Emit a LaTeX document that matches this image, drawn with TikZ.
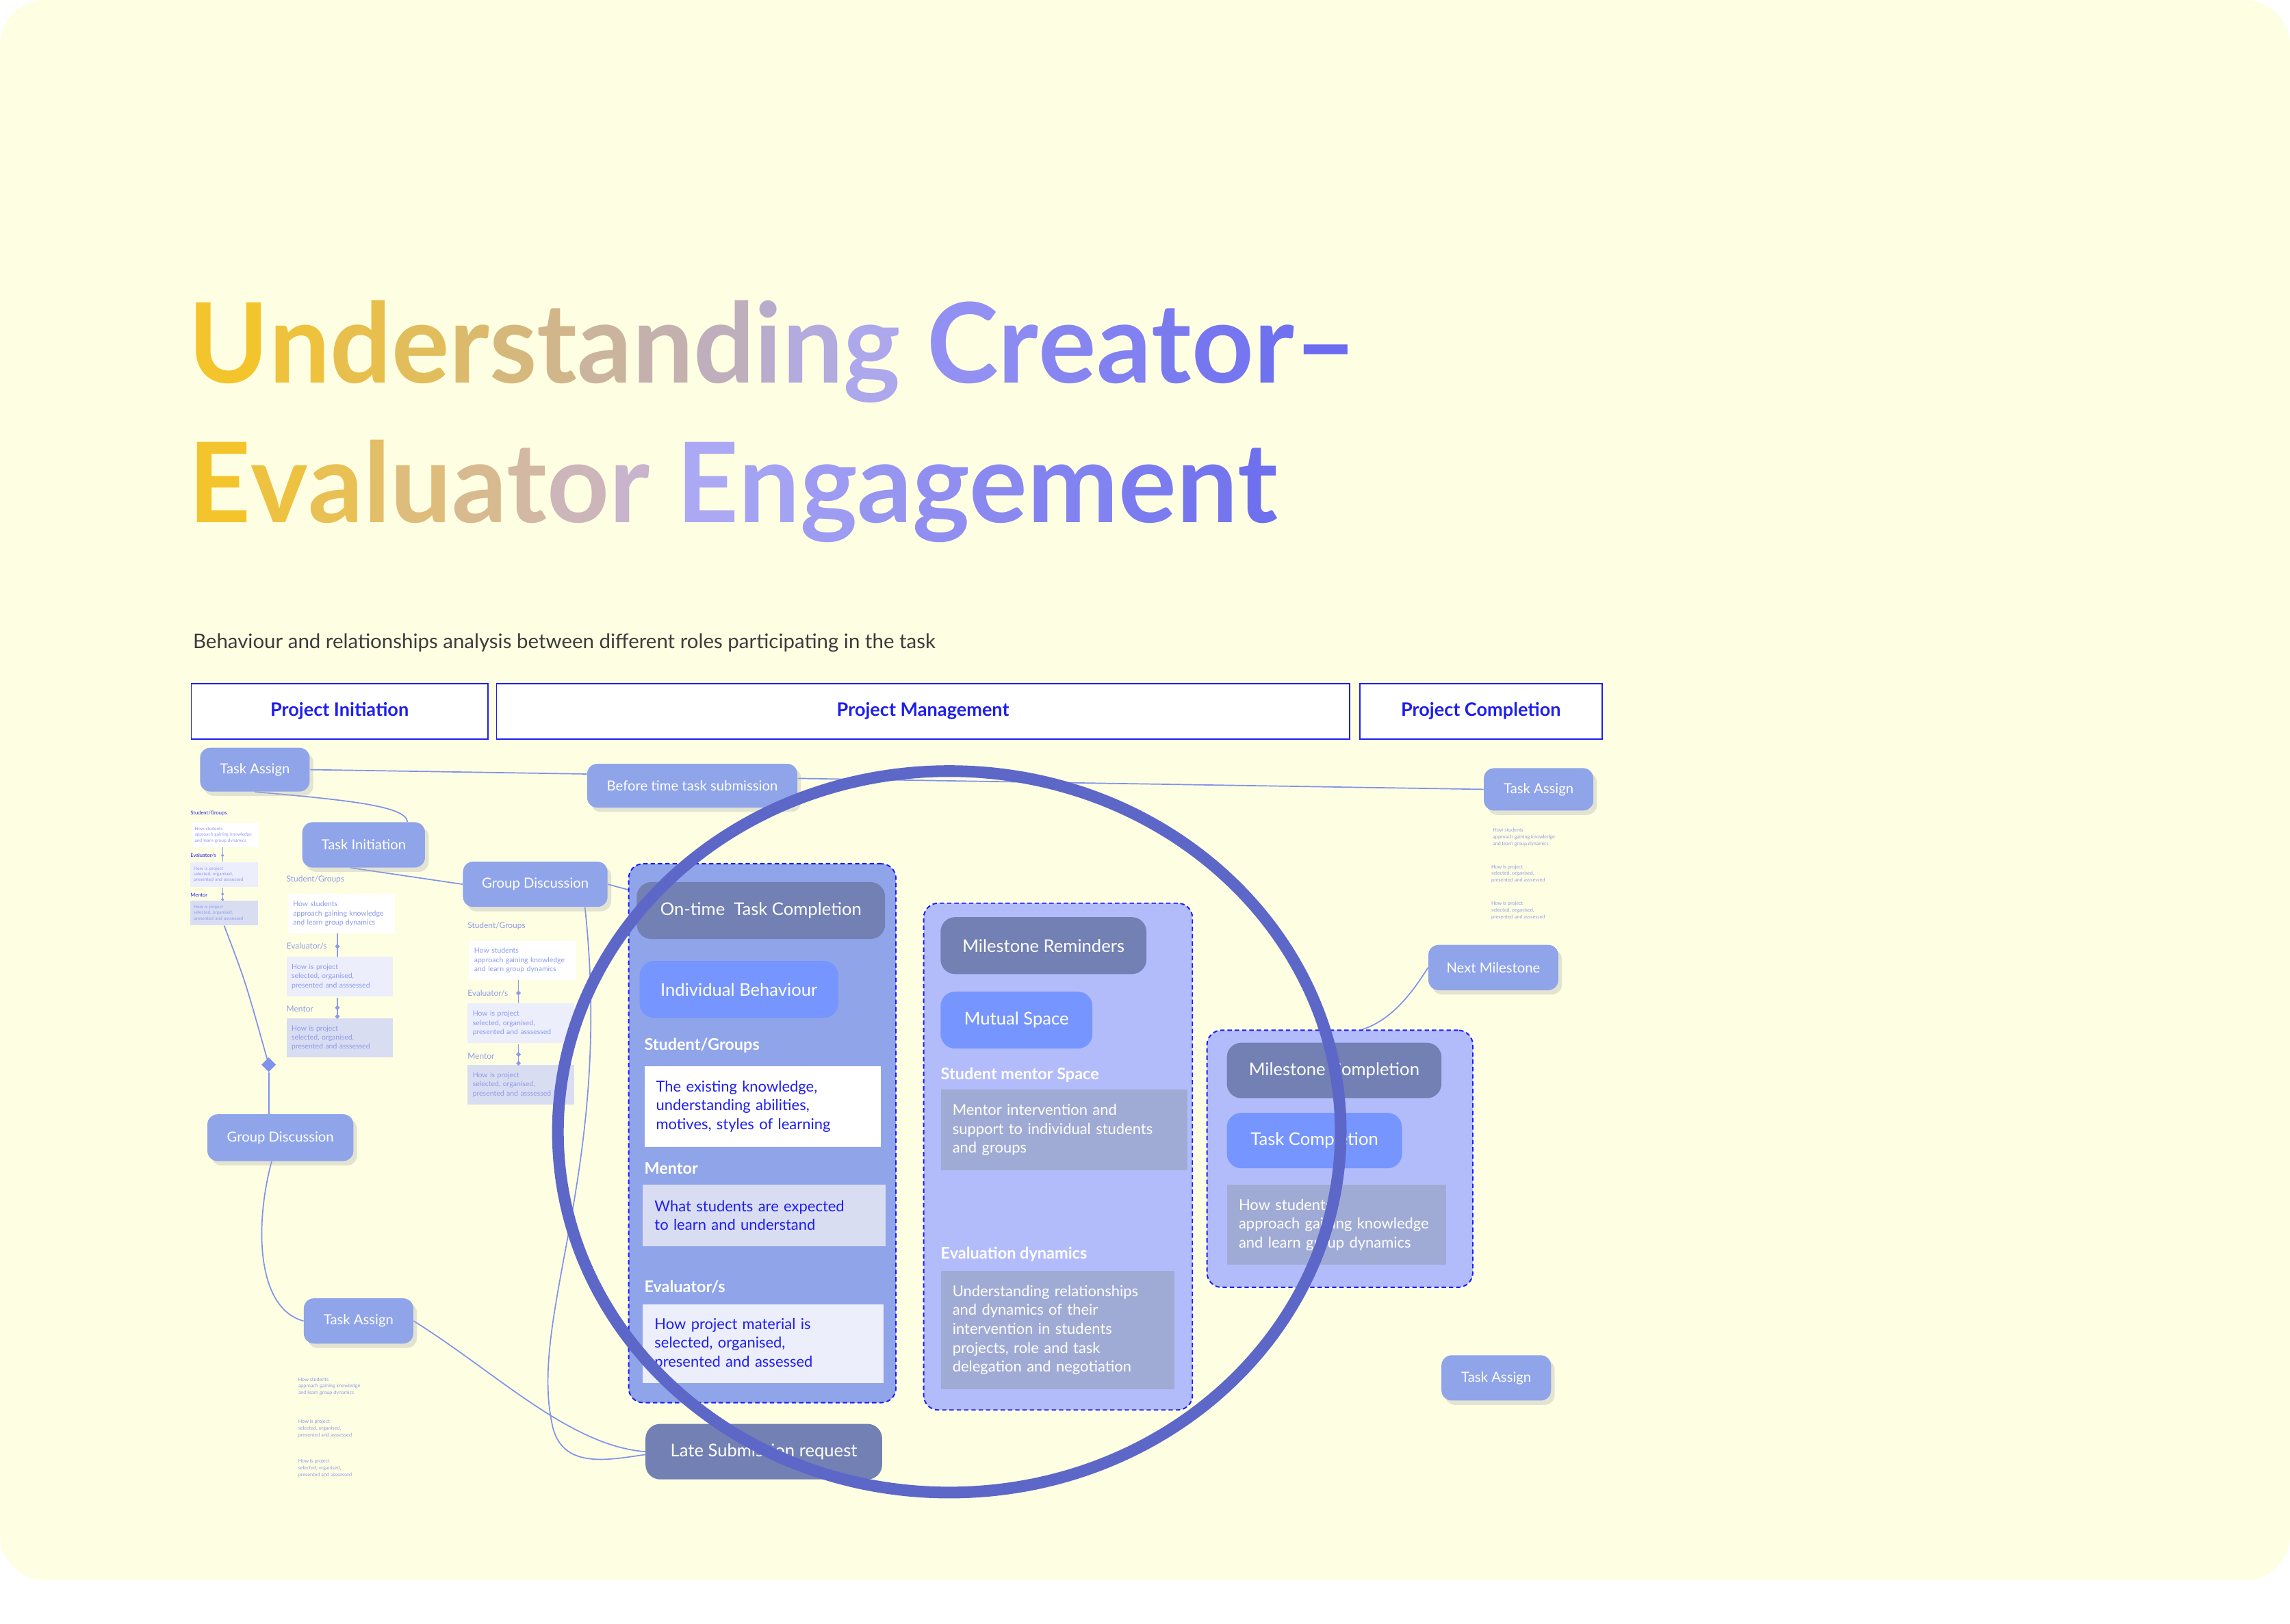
\documentclass[tikz,border=0pt]{standalone}
\usepackage{fontspec}
\setmainfont{Lato}
\usetikzlibrary{shadows,shapes.geometric}
\hyphenpenalty=10000

\pgfdeclarelayer{paperlayer}
\pgfdeclarelayer{links}
\pgfsetlayers{paperlayer,links,main}

\definecolor{paper}{HTML}{FEFEE2}
\definecolor{stepblue}{HTML}{8FA4E9}
\definecolor{stepdark}{HTML}{7380B3}
\definecolor{stepbright}{HTML}{7695FE}
\definecolor{lilac}{HTML}{B3BCFB}
\definecolor{greybox}{HTML}{A0ABD5}
\definecolor{mentorbox}{HTML}{D9DDF2}
\definecolor{evalbox}{HTML}{ECEEFC}
\definecolor{ringblue}{HTML}{5C67C8}
\definecolor{dashblue}{HTML}{1A1AFF}
\definecolor{inkblue}{HTML}{1E1EEE}
\definecolor{linkblue}{HTML}{7F92EC}
\definecolor{faintblue}{HTML}{8E9BEA}
\definecolor{subgrey}{HTML}{3C3C3C}
\definecolor{goldA}{HTML}{F4C42C}
\definecolor{lilacA}{HTML}{ADA8EC}
\definecolor{lilacB}{HTML}{ABA9F3}
\definecolor{roseA}{HTML}{C8B4CC}
\definecolor{violetA}{HTML}{9290F2}
\definecolor{violetB}{HTML}{6B6CEF}
\definecolor{violetC}{HTML}{6E70EE}

% letter by letter colour ramp: #1 letters count, #2 from, #3 to, #4 letters
\newcommand\rampword[4]{%
  \foreach \ch [count=\ci] in {#4}{%
    \pgfmathtruncatemacro\mixp{100-100*(\ci-1)/(#1-1)}%
    \textcolor{#2!\mixp!#3}{\ch}}}
\newcommand\headlinefont{\fontsize{76}{76}\bfseries\selectfont}

\tikzset{
  stepnode/.style={rounded corners=7pt, fill=stepblue, text=white, inner sep=0pt,
    font=\fontsize{9.5}{11}\selectfont,
    drop shadow={shadow xshift=2.5pt, shadow yshift=-3pt, fill=black!30, opacity=0.35}},
  innerstep/.style={rounded corners=10pt, text=white, inner sep=0pt,
    font=\fontsize{12}{14}\selectfont},
  hdrbox/.style={draw=inkblue, line width=0.8pt, fill=white, text=inkblue,
    minimum height=38pt, inner sep=0pt, font=\fontsize{12.7}{14}\bfseries\selectfont},
  contbox/.style={anchor=north west, rounded corners=10pt, draw=dashblue,
    line width=0.9pt, dash pattern=on 3pt off 2pt, inner sep=0pt},
  infobox/.style={anchor=north west, align=left, inner xsep=8pt, inner ysep=0pt,
    font=\fontsize{10.3}{13}\selectfont},
  rolelabel/.style={anchor=west, inner sep=0pt, text=white,
    font=\fontsize{11}{12}\bfseries\selectfont},
  minilabel/.style={anchor=west, inner sep=0pt, text=faintblue,
    font=\fontsize{5.6}{6.5}\selectfont},
  minibox/.style={anchor=north west, minimum width=73pt, minimum height=27pt,
    text width=66pt, inner xsep=3.5pt, inner ysep=0pt, align=left, text=faintblue,
    font=\fontsize{4.9}{6.3}\selectfont},
  mininote/.style={anchor=north west, inner sep=0pt, align=left, text=faintblue,
    font=\fontsize{3.4}{4.6}\selectfont},
  minilink/.style={draw=faintblue, line width=0.6pt},
  minidot/.style={diamond, fill=faintblue, inner sep=0pt, minimum size=3.5pt},
  link/.style={draw=linkblue, line width=0.8pt},
  ring/.style={draw=ringblue, line width=8pt},
  minicol/.pic={
    \node[minilabel] at (-1,-10) {Student/Groups};
    \node[minibox, fill=white] (-sg) at (0,0)
      {How students\\approach gaining knowledge\\and learn group dynamics};
    \node[minilabel] at (-1,36) {Evaluator/s};
    \node[minibox, fill=evalbox] (-ev) at (-1,43)
      {How is project\\selected, organised,\\presented and asssessed};
    \node[minilabel] at (-1,79) {Mentor};
    \node[minibox, fill=mentorbox] (-me) at (-1,85)
      {How is project\\selected, organised,\\presented and asssessed};
    \draw[minilink] (34,27) -- (34,43);
    \draw[minilink] (34,71) -- (34,85);
    \node[minidot] at (34,36) {};
    \node[minidot] at (34,78) {};
    \node[minidot] at (34,84) {};
  }
}

\begin{document}
\begin{tikzpicture}[x=1pt,y=-1pt]
  \useasboundingbox (0,0) rectangle (1568,1112);
  \begin{pgfonlayer}{paperlayer}
    \fill[white] (0,0) rectangle (1568,1112);
    \fill[paper, rounded corners=31pt] (0,0) rectangle (1568,1082);
  \end{pgfonlayer}

  % title
  \node[anchor=base west, inner sep=0pt, font=\headlinefont] (title1) at (129,262)
    {\scalebox{0.975}[1]{\rampword{13}{goldA}{lilacA}{U,n,d,e,r,s,t,a,n,d,i,n,g}\ %
     \rampword{8}{violetA}{violetB}{C,r,e,a,t,o,r,–}}};
  \node[anchor=base west, inner sep=0pt, font=\headlinefont] (title2) at (129,358)
    {\scalebox{0.978}[1]{\rampword{9}{goldA}{roseA}{E,v,a,l,u,a,t,o,r}\ %
     \rampword{10}{lilacB}{violetC}{E,n,g,a,g,e,m,e,n,t}}};
  \node[anchor=west, inner sep=0pt, text=subgrey, font=\fontsize{13.8}{16}\selectfont]
    (subtitle) at (132,440)
    {Behaviour and relationships analysis between different roles participating in the task};

  % phases
  \node[hdrbox, minimum width=203pt] (phase1) at (232.5,487) {Project Initiation};
  \node[hdrbox, minimum width=584pt] (phase2) at (632,487) {Project Management};
  \node[hdrbox, minimum width=166pt] (phase3) at (1014,487) {Project Completion};

  % mini role columns
  \pic[transform shape, scale=0.63, minilabel/.append style={text=inkblue}] (c1) at (131,563) {minicol};
  \pic (c2) at (197,612) {minicol};
  \pic (c3) at (321,644) {minicol};
  \node[diamond, fill=linkblue, inner sep=0pt, minimum size=10pt] (knot) at (184,729) {};

  % containers
  \node[contbox, fill=stepblue, minimum width=183pt, minimum height=369pt] (cont1) at (430,591) {};
  \node[contbox, fill=lilac, minimum width=184pt, minimum height=347pt] (cont2) at (632,618) {};
  \node[contbox, fill=lilac, minimum width=182pt, minimum height=176pt] (cont3) at (826,705) {};

  % steps
  \node[stepnode, minimum width=75pt, minimum height=30pt] (ta1) at (174.5,527) {Task Assign};
  \node[stepnode, minimum width=144pt, minimum height=30pt] (bts) at (474,538) {Before time task submission};
  \node[stepnode, minimum width=75pt, minimum height=29pt] (ta2) at (1053.5,540.5) {Task Assign};
  \node[stepnode, minimum width=84pt, minimum height=31pt] (ti) at (249,578.5) {Task Initiation};
  \node[stepnode, minimum width=99pt, minimum height=31pt] (gd1) at (366.5,605.5) {Group Discussion};
  \node[stepnode, minimum width=100pt, minimum height=32pt] (gd2) at (192,779) {Group Discussion};
  \node[stepnode, minimum width=75pt, minimum height=31pt] (ta3) at (245.5,904.5) {Task Assign};
  \node[stepnode, minimum width=89pt, minimum height=31pt] (nm) at (1022.5,662.5) {Next Milestone};
  \node[stepnode, minimum width=75pt, minimum height=31pt] (ta4) at (1024.5,943.5) {Task Assign};
  \node[innerstep, fill=stepdark, minimum width=162pt, minimum height=38pt] (ls) at (523,994) {Late Submission request};

  % loose notes
  \node[mininote] (n1) at (204,943) {How students\\approach gaining knowledge\\and learn group dynamics};
  \node[mininote] (n2) at (204,972) {How is project\\selected, organised,\\presented and asssessed};
  \node[mininote] (n3) at (204,999) {How is project\\selected, organised,\\presented and asssessed};
  \node[mininote] (n4) at (1022,567) {How students\\approach gaining knowledge\\and learn group dynamics};
  \node[mininote] (n5) at (1021,592) {How is project\\selected, organised,\\presented and asssessed};
  \node[mininote] (n6) at (1021,617) {How is project\\selected, organised,\\presented and asssessed};

  % on-time completion
  \node[innerstep, fill=stepdark, minimum width=170pt, minimum height=39pt] (otc) at (521,623.5) {On-time\ \ Task Completion};
  \node[innerstep, fill=stepbright, minimum width=136pt, minimum height=39pt] (ib) at (506,677.5) {Individual Behaviour};
  \node[rolelabel] (lsg) at (441,716) {Student/Groups};
  \node[infobox, fill=white, text=inkblue, minimum height=55pt, text width=146pt] (sgbox) at (441,730)
    {The existing knowledge,\\understanding abilities,\\motives, styles of learning};
  \node[rolelabel] (lme) at (441,800) {Mentor};
  \node[infobox, fill=mentorbox, text=inkblue, minimum height=42pt, text width=150pt] (mebox) at (440,811)
    {What students are expected\\to learn and understand};
  \node[rolelabel] (lev) at (441,881) {Evaluator/s};
  \node[infobox, fill=evalbox, text=inkblue, minimum height=54pt, text width=149pt] (evbox) at (440,893)
    {How project material is\\selected, organised,\\presented and assessed};

  % milestone reminders
  \node[innerstep, fill=stepdark, minimum width=141pt, minimum height=39pt] (mr) at (714.5,647.5) {Milestone Reminders};
  \node[innerstep, fill=stepbright, minimum width=104pt, minimum height=39pt] (msp) at (696,698.5) {Mutual Space};
  \node[rolelabel] (lsm) at (644,736) {Student mentor Space};
  \node[infobox, fill=greybox, text=white, minimum height=55pt, text width=153pt] (smbox) at (644,746)
    {Mentor intervention and\\support to individual students\\and groups};
  \node[rolelabel] (led) at (644,859) {Evaluation dynamics};
  \node[infobox, fill=greybox, text=white, minimum height=81pt, text width=144pt] (edbox) at (644,870)
    {Understanding relationships\\and dynamics of their\\intervention in students\\projects, role and task\\delegation and negotiation};

  % milestone completion
  \node[innerstep, fill=stepdark, minimum width=147pt, minimum height=38pt] (mc) at (913.5,733) {Milestone Completion};
  \node[innerstep, fill=stepbright, minimum width=120pt, minimum height=38pt] (tc) at (900,781) {Task Completion};
  \node[infobox, fill=greybox, text=white, minimum height=55pt, text width=134pt] (hsbox) at (840,811)
    {How students\\approach gaining knowledge\\and learn group dynamics};

  % connectors
  \begin{pgfonlayer}{links}
    \draw[link] (c1-me.south) .. controls (168,672) .. (knot);
    \draw[link] (knot) -- ([xshift=-8pt]gd2.north);
    \draw[link] (ta1.east) -- ([yshift=8pt]bts.west);
    \draw[link] ([yshift=5pt]bts.east) -- (ta2.west);
    \draw[link] (ta1.south) .. controls (240,548) and (278,552) .. ([xshift=30pt]ti.north);
    \draw[link] ([xshift=-9pt]ti.south) -- (gd1.west);
    \draw[link] (gd1.east) -- ([yshift=-7pt]otc.north west);
    \draw[link] ([xshift=34pt]gd1.south) .. controls (420,800) and (362,900) .. (378,975)
      .. controls (384,1006) and (415,1000) .. ([yshift=-2pt]ls.west);
    \draw[link] ([xshift=-6pt]gd2.south) .. controls (174,840) and (176,896) .. (ta3.west);
    \draw[link] (ta3.east) .. controls (340,940) and (390,990) .. (ls.west);
    \draw[link] (nm.west) .. controls (962,688) and (948,700) .. ([xshift=15pt]cont3.north);
  \end{pgfonlayer}

  % focus ring
  \draw[ring] (650,775) ellipse [x radius=268, y radius=247];
\end{tikzpicture}
\end{document}
